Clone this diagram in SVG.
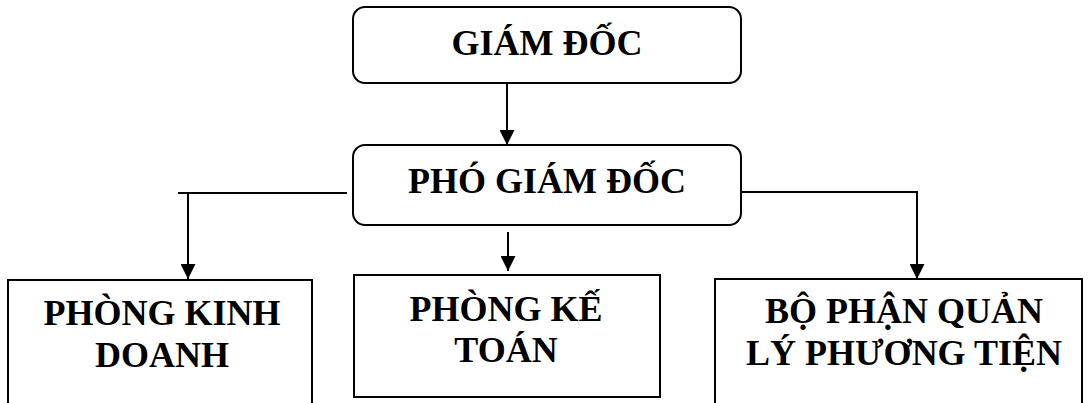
<svg xmlns="http://www.w3.org/2000/svg" width="1088" height="403" viewBox="0 0 1088 403">
  <style>
    .box { fill: #ffffff; stroke: #000000; stroke-width: 2; }
    .lbl { font-family: "Liberation Serif", "Times New Roman", serif; font-weight: bold; font-size: 36px; fill: #000000; text-anchor: middle; }
    .wire { fill: none; stroke: #000000; stroke-width: 2; }
  </style>
  <defs>
    <marker id="head" viewBox="0 0 10 10" refX="10" refY="5" markerWidth="7.5" markerHeight="7.5" markerUnits="strokeWidth" orient="auto">
      <path d="M0,0 L10,5 L0,10 Z" fill="#000000"/>
    </marker>
  </defs>
  <rect width="1088" height="403" fill="#ffffff"/>

  <g id="connectors">
    <line class="wire" x1="507" y1="84" x2="507" y2="145" marker-end="url(#head)"/>
    <polyline class="wire" points="347,193 178,193"/>
    <line class="wire" x1="188" y1="193" x2="188" y2="279" marker-end="url(#head)"/>
    <line class="wire" x1="508" y1="232" x2="508" y2="271" marker-end="url(#head)"/>
    <polyline class="wire" points="741,192 917,192 917,279" marker-end="url(#head)"/>
  </g>

  <g id="giam-doc">
    <rect class="box" x="353" y="7" width="388" height="76" rx="12" ry="12"/>
    <text class="lbl" x="547" y="55">GIÁM ĐỐC</text>
  </g>

  <g id="pho-giam-doc">
    <rect class="box" x="353" y="145" width="388" height="80" rx="12" ry="12"/>
    <text class="lbl" x="547" y="193">PHÓ GIÁM ĐỐC</text>
  </g>

  <g id="phong-kinh-doanh">
    <rect class="box" x="8" y="280" width="304" height="140"/>
    <text class="lbl" x="162" y="325">PHÒNG KINH</text>
    <text class="lbl" x="162" y="367">DOANH</text>
  </g>

  <g id="phong-ke-toan">
    <rect class="box" x="354" y="275" width="306" height="122"/>
    <text class="lbl" x="506" y="321">PHÒNG KẾ</text>
    <text class="lbl" x="506" y="362">TOÁN</text>
  </g>

  <g id="bo-phan-quan-ly">
    <rect class="box" x="715" y="279" width="367" height="140"/>
    <text class="lbl" x="904" y="323">BỘ PHẬN QUẢN</text>
    <text class="lbl" x="904" y="365">LÝ PHƯƠNG TIỆN</text>
  </g>
</svg>
